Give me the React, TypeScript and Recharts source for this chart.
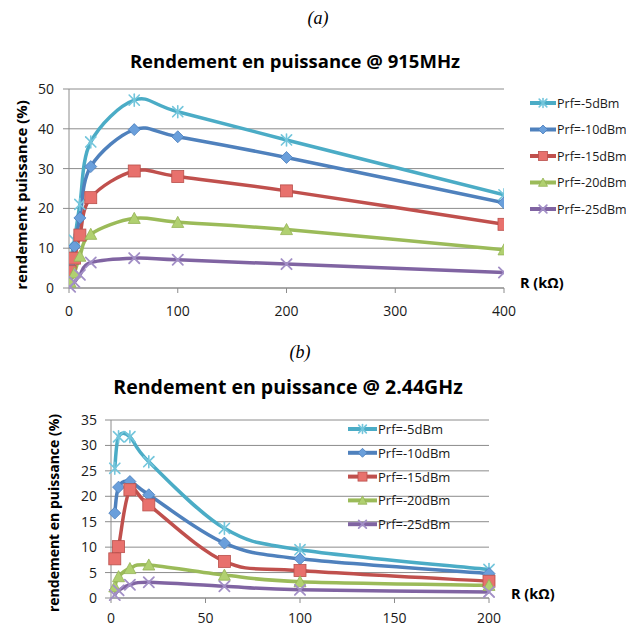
import React from "react";
import { LineChart, Line, XAxis, YAxis, CartesianGrid } from "recharts";

// ---------- data ----------
const seriesNames = ["Prf=-5dBm", "Prf=-10dBm", "Prf=-15dBm", "Prf=-20dBm", "Prf=-25dBm"];

// (a) 915 MHz
const R915 = [1, 5, 10, 20, 60, 100, 200, 400];
const eff915_m5 = [6.6, 12, 21, 36.7, 47.2, 44.3, 37.2, 23.4];
const eff915_m10 = [5.5, 10.4, 17.6, 30.5, 39.8, 38.0, 32.8, 21.4];
const eff915_m15 = [4.1, 7.5, 13.3, 22.7, 29.4, 28.0, 24.4, 16.0];
const eff915_m20 = [1.5, 3.8, 8.0, 13.5, 17.5, 16.5, 14.7, 9.6];
const eff915_m25 = [0.3, 1.5, 3.3, 6.4, 7.5, 7.1, 6.0, 3.9];
const xTicks915 = [0, 100, 200, 300, 400];
const yTicks915 = [0, 10, 20, 30, 40, 50];

// (b) 2.44 GHz
const R244 = [2, 4, 10, 20, 60, 100, 200];
const eff244_m5 = [25.5, 31.7, 31.7, 26.8, 13.7, 9.5, 5.6];
const eff244_m10 = [16.7, 21.8, 22.9, 20.3, 10.8, 7.7, 4.8];
const eff244_m15 = [7.7, 10.1, 21.3, 18.3, 7.2, 5.4, 3.3];
const eff244_m20 = [2.2, 4.2, 5.8, 6.5, 4.5, 3.2, 2.5];
const eff244_m25 = [0.6, 1.5, 2.6, 3.1, 2.3, 1.6, 1.2];
const xTicks244 = [0, 50, 100, 150, 200];
const yTicks244 = [0, 5, 10, 15, 20, 25, 30, 35];

const keys = ["m5", "m10", "m15", "m20", "m25"];
const lineColors = ["#4BACC6", "#4F81BD", "#C0504D", "#9BBB59", "#8064A2"];
const markerKinds = ["star", "diamond", "square", "triangle", "x"];

const buildRows = (xs: number[], cols: number[][]) =>
  xs.map((r, i) => {
    const row: any = { R: r };
    keys.forEach((k, j) => (row[k] = cols[j][i]));
    return row;
  });

const data915 = buildRows(R915, [eff915_m5, eff915_m10, eff915_m15, eff915_m20, eff915_m25]);
const data244 = buildRows(R244, [eff244_m5, eff244_m10, eff244_m15, eff244_m20, eff244_m25]);

// ---------- Excel-like smoothing (Catmull-Rom) ----------
const excelSmooth: any = (context: any) => {
  let pts: number[][] = [];
  return {
    areaStart() {},
    areaEnd() {},
    lineStart() {
      pts = [];
    },
    point(x: number, y: number) {
      pts.push([+x, +y]);
    },
    lineEnd() {
      const n = pts.length;
      if (!n) return;
      context.moveTo(pts[0][0], pts[0][1]);
      for (let i = 0; i < n - 1; i++) {
        const p0 = pts[i - 1] || pts[i];
        const p1 = pts[i];
        const p2 = pts[i + 1];
        const p3 = pts[i + 2] || pts[i + 1];
        context.bezierCurveTo(
          p1[0] + (p2[0] - p0[0]) / 6,
          p1[1] + (p2[1] - p0[1]) / 6,
          p2[0] - (p3[0] - p1[0]) / 6,
          p2[1] - (p3[1] - p1[1]) / 6,
          p2[0],
          p2[1]
        );
      }
    },
  };
};

// ---------- markers ----------
const Marker = ({ kind, cx, cy, s }: { kind: string; cx: number; cy: number; s: number }) => {
  const h = s / 2;
  switch (kind) {
    case "star":
      return (
        <g stroke="#74C6DC" strokeWidth={1.6} strokeLinecap="round">
          <line x1={cx} y1={cy - h} x2={cx} y2={cy + h} />
          <line x1={cx - h * 0.85} y1={cy - h * 0.85} x2={cx + h * 0.85} y2={cy + h * 0.85} />
          <line x1={cx - h * 0.85} y1={cy + h * 0.85} x2={cx + h * 0.85} y2={cy - h * 0.85} />
        </g>
      );
    case "diamond":
      return (
        <polygon
          points={`${cx},${cy - h} ${cx + h},${cy} ${cx},${cy + h} ${cx - h},${cy}`}
          fill="#6A9FDB"
          stroke="#4A7EBB"
          strokeWidth={0.8}
        />
      );
    case "square":
      return (
        <rect x={cx - h} y={cy - h} width={s} height={s} fill="#E8716D" stroke="#B9504C" strokeWidth={0.8} />
      );
    case "triangle":
      return (
        <polygon
          points={`${cx},${cy - h} ${cx + h},${cy + h * 0.85} ${cx - h},${cy + h * 0.85}`}
          fill="#B0D070"
          stroke="#94B356"
          strokeWidth={0.8}
        />
      );
    default:
      return (
        <g stroke="#A28FC6" strokeWidth={1.8} strokeLinecap="round">
          <line x1={cx - h * 0.85} y1={cy - h * 0.85} x2={cx + h * 0.85} y2={cy + h * 0.85} />
          <line x1={cx - h * 0.85} y1={cy + h * 0.85} x2={cx + h * 0.85} y2={cy - h * 0.85} />
        </g>
      );
  }
};

const makeDot = (kind: string, s: number) => (props: any) => {
  const { cx, cy, index } = props;
  if (cx == null || cy == null || isNaN(cx) || isNaN(cy)) return <g key={`e${index}`} />;
  return (
    <g key={`d${index}`}>
      <Marker kind={kind} cx={cx} cy={cy} s={s} />
    </g>
  );
};

// ---------- styles ----------
const FONT = "'Open Sans', 'DejaVu Sans', sans-serif";
const GRID = "#8C8C8C";
const tickStyle = { fontSize: 14, fill: "#1a1a1a", fontFamily: FONT };

const renderLines = () =>
  keys.map((k, i) => (
    <Line
      key={k}
      dataKey={k}
      type={excelSmooth}
      stroke={lineColors[i]}
      strokeWidth={3.5}
      dot={makeDot(markerKinds[i], 12)}
      activeDot={false}
      isAnimationActive={false}
    />
  ));

const Legend = ({ x, y0, dy, len, fontSize }: any) => (
  <g>
    {seriesNames.map((name, i) => {
      const y = y0 + i * dy;
      return (
        <g key={name}>
          <line x1={x} y1={y} x2={x + len} y2={y} stroke={lineColors[i]} strokeWidth={4} />
          <Marker kind={markerKinds[i]} cx={x + len / 2} cy={y} s={9} />
          <text x={x + len + 1} y={y} dominantBaseline="central" fontSize={fontSize} fontFamily={FONT} fill="#1a1a1a">
            {name}
          </text>
        </g>
      );
    })}
  </g>
);

export default function App() {
  return (
    <div style={{ position: "absolute", left: 0, top: 0, width: 626, height: 627, background: "#fff", overflow: "hidden" }}>
      {/* Chart (a) */}
      <div style={{ position: "absolute", left: 0, top: 0 }}>
        <LineChart width={626} height={330} data={data915} margin={{ top: 89, right: 122, bottom: 12, left: 29 }}>
          <CartesianGrid horizontal vertical={false} stroke={GRID} strokeWidth={1} />
          <XAxis
            dataKey="R"
            type="number"
            domain={[0, 400]}
            ticks={xTicks915}
            height={30}
            tick={tickStyle}
            tickSize={5}
            tickMargin={13}
            stroke={GRID}
            allowDataOverflow
          />
          <YAxis
            type="number"
            domain={[0, 50]}
            ticks={yTicks915}
            width={40}
            tick={tickStyle}
            tickSize={6}
            tickMargin={9}
            stroke={GRID}
          />
          {renderLines()}
        </LineChart>
      </div>

      {/* Chart (b) */}
      <div style={{ position: "absolute", left: 0, top: 330 }}>
        <LineChart width={626} height={297} data={data244} margin={{ top: 90, right: 137, bottom: 5, left: 71 }}>
          <CartesianGrid horizontal vertical={false} stroke={GRID} strokeWidth={1} />
          <XAxis
            dataKey="R"
            type="number"
            domain={[0, 200]}
            ticks={xTicks244}
            height={24}
            tick={tickStyle}
            tickSize={5}
            tickMargin={10}
            stroke={GRID}
          />
          <YAxis
            type="number"
            domain={[0, 35]}
            ticks={yTicks244}
            width={40}
            tick={tickStyle}
            tickSize={6}
            tickMargin={8}
            stroke={GRID}
          />
          {renderLines()}
        </LineChart>
      </div>

      {/* Overlay texts & legends */}
      <svg width={626} height={627} style={{ position: "absolute", left: 0, top: 0, pointerEvents: "none" }}>
        <text x={318} y={24} textAnchor="middle" fontSize={18} fontStyle="italic" fontFamily="'Liberation Serif', serif" fill="#000">
          (a)
        </text>
        <text x={295} y={68} textAnchor="middle" fontSize={18.5} fontWeight="bold" fontFamily={FONT} fill="#000">
          Rendement en puissance @ 915MHz
        </text>
        <text
          x={0}
          y={0}
          transform="translate(21,195) rotate(-90)"
          textAnchor="middle"
          dominantBaseline="central"
          fontSize={15}
          fontWeight="bold"
          fontFamily={FONT}
          fill="#000"
        >
          rendement puissance (%)
        </text>
        <text x={520} y={288} fontSize={14.5} fontWeight="bold" fontFamily={FONT} fill="#000">
          R (kΩ)
        </text>
        <Legend x={530} y0={103} dy={26.5} len={26} fontSize={12.5} />

        <text x={300} y={358} textAnchor="middle" fontSize={18} fontStyle="italic" fontFamily="'Liberation Serif', serif" fill="#000">
          (b)
        </text>
        <text x={288} y={394} textAnchor="middle" fontSize={19.5} fontWeight="bold" fontFamily={FONT} fill="#000">
          Rendement en puissance @ 2.44GHz
        </text>
        <text
          x={0}
          y={0}
          transform="translate(53,513) rotate(-90)"
          textAnchor="middle"
          dominantBaseline="central"
          fontSize={14}
          fontWeight="bold"
          fontFamily={FONT}
          fill="#000"
        >
          rendement en puissance (%)
        </text>
        <text x={511} y={599} fontSize={14.5} fontWeight="bold" fontFamily={FONT} fill="#000">
          R (kΩ)
        </text>
        <Legend x={348} y0={429} dy={23.8} len={29} fontSize={13} />
      </svg>
    </div>
  );
}
